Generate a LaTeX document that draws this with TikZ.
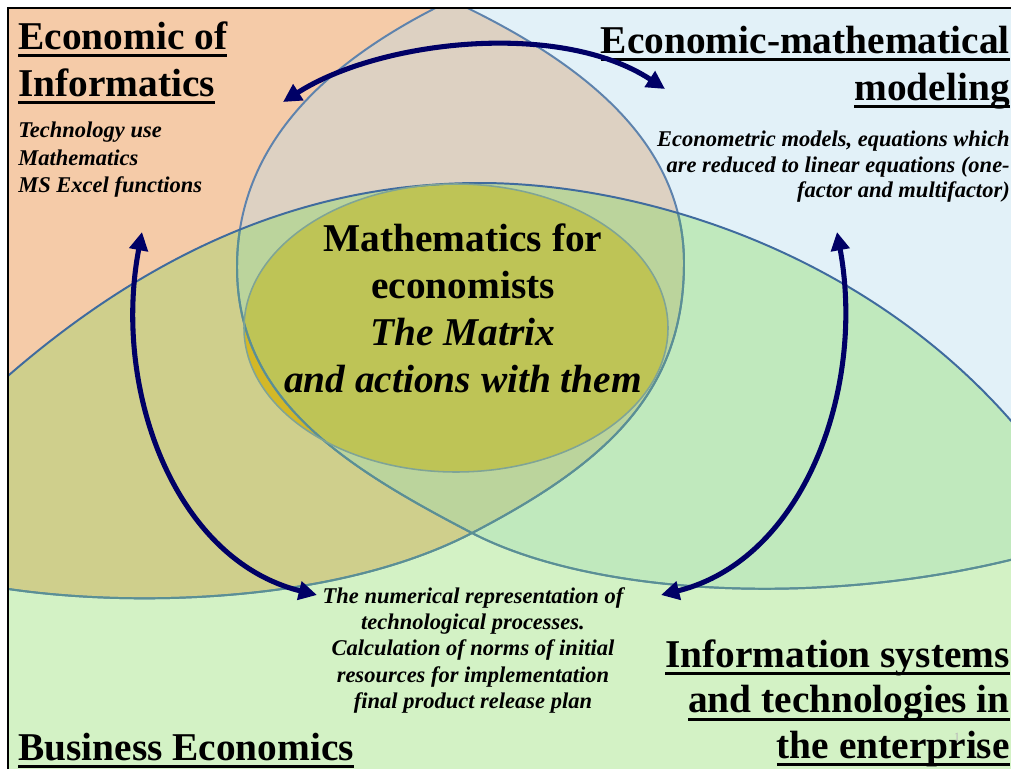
\documentclass[tikz,border=0pt]{standalone}
\usepackage{fontspec}
\setmainfont{Liberation Serif}
\usetikzlibrary{arrows.meta}

\definecolor{peach}{HTML}{F5CBA8}
\definecolor{skyblue}{HTML}{E2F1F8}
\definecolor{sand}{HTML}{DDD1C2}
\definecolor{meadow}{HTML}{D3F2C5}
\definecolor{oliveland}{HTML}{CFCF8C}
\definecolor{leaf}{HTML}{C0E9BD}
\definecolor{sage}{HTML}{BBD49C}
\definecolor{core}{HTML}{BEC456}
\definecolor{amber}{HTML}{D3B827}
\definecolor{rimtop}{HTML}{5E83AD}
\definecolor{rimlow}{HTML}{5A9094}
\definecolor{horizon}{HTML}{3F6B9E}
\definecolor{coreline}{HTML}{7FA496}
\definecolor{navy}{HTML}{000066}

% thick underline for the headings
\newcommand{\ulbar}[1]{\setbox0=\hbox{#1}\rlap{\rule[-0.2em]{\wd0}{0.08em}}\box0}

% the three big areas (closed outside the frame)
\newcommand{\leftland}{(-100,-100) -- (-100,578) -- (-40,580) .. controls (80,608) and (320,612) .. (472,533) .. controls (605,464) and (684,393) .. (684,263) .. controls (684,133) and (567,53) .. (440,-5) -- (420,-100) -- cycle}
\newcommand{\rightland}{(462,-5) .. controls (340,52) and (237,135) .. (237,267) .. controls (237,397) and (339,464) .. (472,533) .. controls (605,602) and (870,610) .. (1080,540) -- (1100,540) -- (1100,-100) -- (480,-100) -- cycle}
\newcommand{\lowland}{(-40,420) .. controls (130,255) and (300,183) .. (480,183) .. controls (650,183) and (900,260) .. (1050,470) -- (1050,800) -- (-40,800) -- cycle}
% their visible borders
\newcommand{\leftrim}{(-40,580) .. controls (80,608) and (320,612) .. (472,533) .. controls (605,464) and (684,393) .. (684,263) .. controls (684,133) and (567,53) .. (440,-5)}
\newcommand{\rightrim}{(462,-5) .. controls (340,52) and (237,135) .. (237,267) .. controls (237,397) and (339,464) .. (472,533) .. controls (605,602) and (870,610) .. (1080,540)}
\newcommand{\horizonline}{(-40,420) .. controls (130,255) and (300,183) .. (480,183) .. controls (650,183) and (900,260) .. (1050,470)}

\begin{document}
\begin{tikzpicture}[x=0.025cm, y=-0.025cm,
    headtext/.style={font=\fontsize{28}{33.5}\selectfont\bfseries, inner sep=0pt},
    notetext/.style={font=\fontsize{16}{19.5}\selectfont\bfseries\itshape, inner sep=0pt},
    link/.style={draw=navy, line width=3.6pt,
      arrows={Triangle[length=13pt,width=13pt]-Triangle[length=13pt,width=13pt]}}]

    \useasboundingbox (0,0) rectangle (1011,769);

    % Venn areas
    \begin{scope}
        \clip (8,8) rectangle (1011,769);
        \fill[peach] \leftland;
        \fill[skyblue] \rightland;
        \begin{scope}
            \clip \leftland;
            \fill[sand] \rightland;
        \end{scope}
        \begin{scope}
            \clip \lowland;
            \fill[meadow] (0,0) rectangle (1011,769);
            \fill[oliveland] \leftland;
            \fill[leaf] \rightland;
            \clip \leftland;
            \fill[sage] \rightland;
        \end{scope}
        \begin{scope}
            \clip (456,328) ellipse [x radius=212, y radius=144];
            \fill[amber] (0,0) rectangle (1011,769);
            \fill[core] \rightland;
        \end{scope}

        % borders of the areas
        \begin{scope}[line width=1.4pt]
            \draw[rimtop] \leftrim;
            \draw[rimtop] \rightrim;
            \clip \lowland;
            \draw[rimlow] \leftrim;
            \draw[rimlow] \rightrim;
        \end{scope}
        \draw[horizon, line width=1.4pt] \horizonline;
        \draw[coreline, line width=1.1pt] (456,328) ellipse [x radius=212, y radius=144];
    \end{scope}
    \draw[line width=1.9pt] (8,769) -- (8,8) -- (1011,8);

    % Headings and notes
    \node[headtext, anchor=north west, align=left] (informatics) at (18,21) {\ulbar{Economic of}\\\ulbar{Informatics}};
    \node[notetext, anchor=north west, align=left] (informatics-notes) at (18,122) {Technology use\\Mathematics\\MS Excel functions};
    \node[headtext, anchor=north east, align=right] (modeling) at (1010,25.5) {\ulbar{Economic-mathematical}\\\ulbar{modeling}};
    \node[notetext, anchor=north east, align=right, font=\fontsize{16}{18}\selectfont\bfseries\itshape] (modeling-notes) at (1010,131) {Econometric models, equations which\\are reduced to linear equations (one-\\factor and multifactor)};
    \node[headtext, anchor=north, align=center] (matrix) at (463,223.5) {Mathematics for\\economists\\\textit{The Matrix}\\\textit{and actions with them}};
    \node[notetext, anchor=north, align=center, font=\fontsize{16}{18.7}\selectfont\bfseries\itshape] (calc) at (473,587) {The numerical representation of\\technological processes.\\Calculation of norms of initial\\resources for implementation\\final product release plan};
    \node[headtext, anchor=base west] (business) at (18,760) {\ulbar{Business Economics}};
    \node[headtext, anchor=north east, align=right, font=\fontsize{28}{32.3}\selectfont\bfseries] (infosys) at (1010,639.5) {\ulbar{Information systems}\\\ulbar{and technologies in}\\\ulbar{the enterprise}};
    \node[font=\fontsize{9}{9}\selectfont, text=gray!55, inner sep=0pt] (slide-num) at (957,737) {1};

    % arrow ends
    \coordinate (informatics-end) at (283,102);
    \coordinate (modeling-end) at (665,89);
    \coordinate (informatics-low) at (142,232);
    \coordinate (modeling-low) at (837,232);
    \coordinate (calc-left) at (317,595);
    \coordinate (calc-right) at (661,595);

    % Links
    \draw[link] (informatics-end) .. controls (380,40) and (560,20) .. (modeling-end);
    \draw[link] (informatics-low) .. controls (112,390) and (175,560) .. (calc-left);
    \draw[link] (modeling-low) .. controls (866,390) and (803,560) .. (calc-right);
\end{tikzpicture}
\end{document}
